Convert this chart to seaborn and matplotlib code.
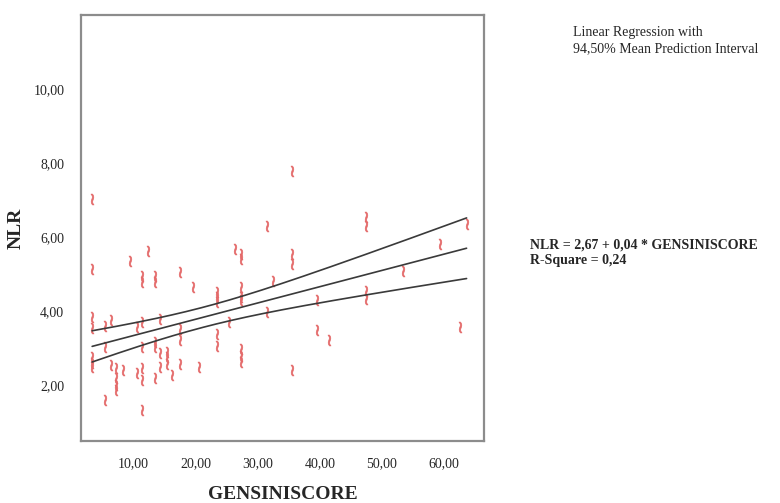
import numpy as np
import pandas as pd
import matplotlib
matplotlib.use("Agg")
import matplotlib.pyplot as plt
import seaborn as sns

# Veri: GENSINISCORE ve NLR
gensini = [3.4, 3.4, 3.4, 3.4, 3.4, 3.4, 3.4,
           5.5, 6.5, 5.5, 5.5, 6.5, 7.3, 7.3, 7.3, 7.3, 8.4, 9.5,
           10.6, 10.6, 11.4, 11.4, 11.4, 11.4, 11.4, 11.4, 11.4,
           12.4, 13.5, 13.5, 13.5, 13.5, 13.5, 14.3, 14.3, 14.3,
           15.5, 15.5, 15.5, 16.3, 17.5, 17.5, 17.5, 17.5, 19.6, 20.5,
           23.4, 23.4, 23.4, 23.4, 23.4, 25.4, 26.4, 27.4, 27.4,
           27.4, 27.4, 27.4, 27.4, 27.4, 27.4, 31.5, 31.5, 32.4,
           35.5, 35.5, 35.5, 35.5, 39.5, 39.5, 41.5,
           47.5, 47.5, 47.5, 47.5, 53.4, 59.3, 62.6, 63.6]
nlr = [7.03, 5.15, 3.84, 3.53, 2.76, 2.59, 2.49,
       3.61, 3.75, 3.03, 1.59, 2.53, 2.45, 2.18, 2.00, 1.86, 2.40, 5.36,
       3.57, 2.32, 4.96, 4.78, 3.70, 3.03, 2.45, 2.13, 1.32,
       5.63, 4.96, 4.78, 3.16, 3.03, 2.18, 3.80, 2.86, 2.49,
       2.89, 2.76, 2.58, 2.26, 5.05, 3.52, 3.21, 2.58, 4.64, 2.49,
       4.51, 4.37, 4.24, 3.39, 3.07, 3.70, 5.69, 5.55, 5.41,
       4.64, 4.37, 4.29, 2.98, 2.80, 2.62, 6.31, 3.97, 4.82,
       7.79, 5.54, 5.27, 2.40, 4.29, 3.48, 3.21,
       6.53, 6.31, 4.55, 4.33, 5.09, 5.81, 3.57, 6.35]

df = pd.DataFrame({"GENSINISCORE": gensini, "NLR": nlr})

# Regresyon ve %94,5 ortalama tahmin aralığı
x = df["GENSINISCORE"].values
y = df["NLR"].values
b1, b0 = np.polyfit(x, y, 1)
n = len(x)
resid = y - (b0 + b1 * x)
s = np.sqrt((resid ** 2).sum() / (n - 2))
t_val = 1.94
xs = np.linspace(x.min(), x.max(), 200)
ys = b0 + b1 * xs
se = s * np.sqrt(1 / n + (xs - x.mean()) ** 2 / ((x - x.mean()) ** 2).sum())

sns.set_style("white")
plt.rcParams["font.family"] = ["Liberation Serif", "DejaVu Serif"]

fig = plt.figure(figsize=(7.8, 5.03), dpi=100)
ax = fig.add_axes([0.1038, 0.1233, 0.5167, 0.8467])

sns.scatterplot(data=df, x="GENSINISCORE", y="NLR", marker="$\\wr$", s=60,
                color="#e46a6a", edgecolor="#e46a6a", linewidth=0.5, ax=ax)
ax.plot(xs, ys, color="#3a3a3a", lw=1.2)
ax.plot(xs, ys + t_val * se, color="#3a3a3a", lw=1.2)
ax.plot(xs, ys - t_val * se, color="#3a3a3a", lw=1.2)

ax.set_xlim(1.6, 66.4)
ax.set_ylim(0.49, 12.0)
ax.set_xticks([10, 20, 30, 40, 50, 60])
ax.set_yticks([2, 4, 6, 8, 10])
ax.set_xticklabels(["10,00", "20,00", "30,00", "40,00", "50,00", "60,00"], fontsize=10)
ax.set_yticklabels(["2,00", "4,00", "6,00", "8,00", "10,00"], fontsize=10)
ax.tick_params(axis="both", direction="out", length=6, width=2, color="black", pad=6)
for sp in ax.spines.values():
    sp.set_color("#8c8c8c")
    sp.set_linewidth(1.6)

ax.set_xlabel("GENSINISCORE", fontsize=14, fontweight="bold", labelpad=11)
ax.set_ylabel("NLR", fontsize=14, fontweight="bold", labelpad=6)

fig.text(0.7346, 0.948, "Linear Regression with\n94,50% Mean Prediction Interval",
         fontsize=10, va="top", ha="left", linespacing=1.3)
fig.text(0.6795, 0.525, "NLR = 2,67 + 0,04 * GENSINISCORE\nR-Square = 0,24",
         fontsize=10, fontweight="bold", va="top", ha="left", linespacing=1.2)

fig.savefig("out.png", dpi=100)
